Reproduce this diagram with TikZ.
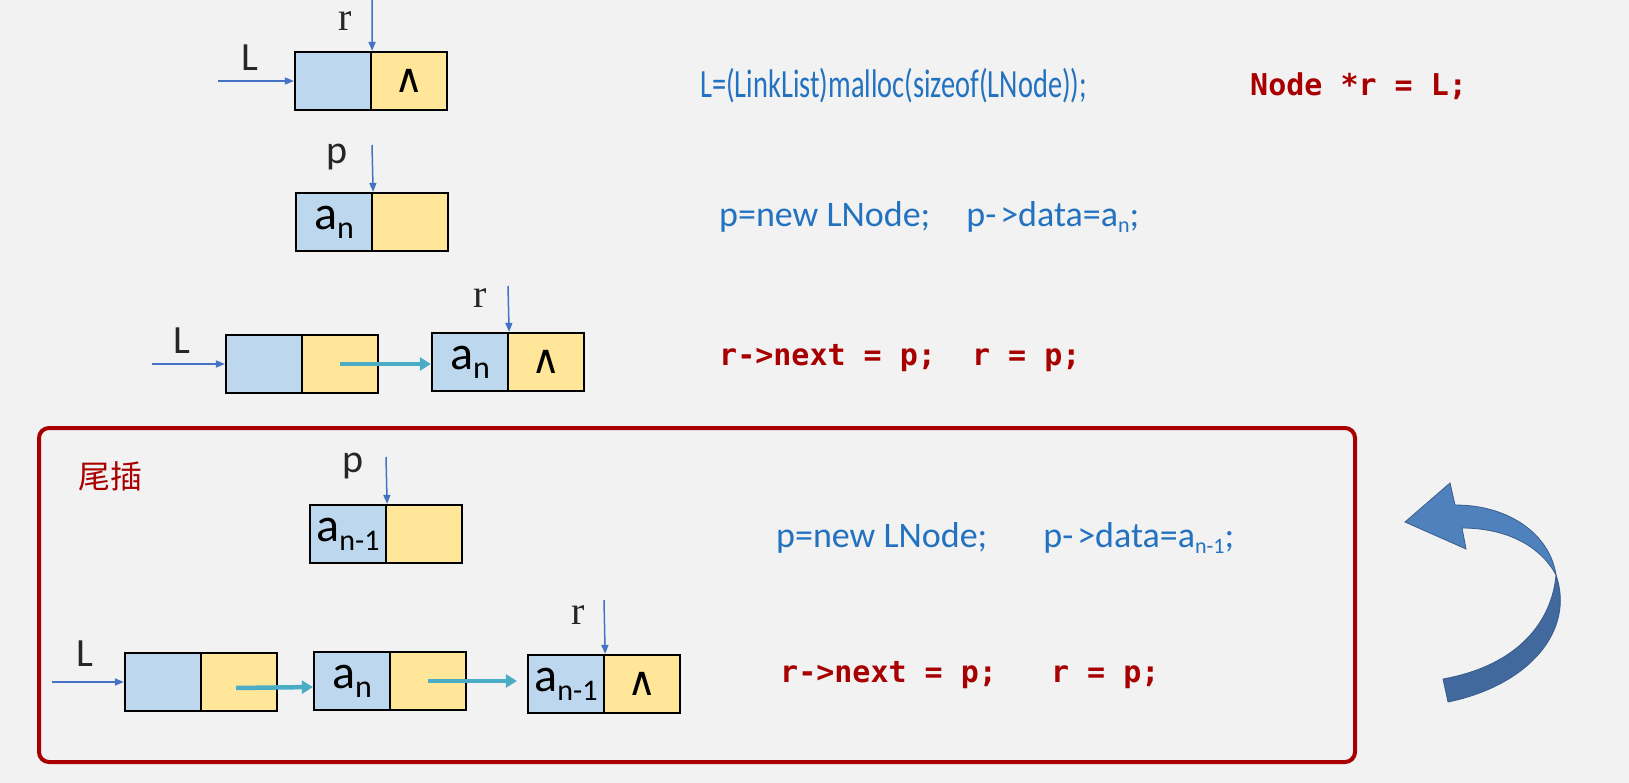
\documentclass[tikz,border=0pt]{standalone}
\usepackage{fontspec}
\usepackage{graphicx}
\setmainfont{Carlito}
\newfontfamily\codefont{DejaVu Sans Mono}
\newfontfamily\serifr{Liberation Serif}
\newfontfamily\cjkf{Noto Sans CJK SC}
\newfontfamily\symf{DejaVu Sans}
\usetikzlibrary{arrows.meta,calc}
\definecolor{bg}{HTML}{F2F2F2}
\definecolor{cellblue}{HTML}{BDD7EE}
\definecolor{cellyellow}{HTML}{FFE699}
\definecolor{ptrblue}{HTML}{4472C4}
\definecolor{linkteal}{HTML}{4BACC6}
\definecolor{codeblue}{HTML}{2372C0}
\definecolor{darkred}{HTML}{A80000}
\definecolor{arrowlight}{HTML}{4F81BD}
\definecolor{arrowdark}{HTML}{41699E}
\definecolor{arrowedge}{HTML}{385D8A}
\newcommand\datan{a\raisebox{-9pt}{\fontsize{32}{32}\selectfont n}}
\newcommand\datanm{a\raisebox{-9pt}{\fontsize{30}{30}\selectfont n-1}}
\begin{document}
\begin{tikzpicture}[x=1pt,y=-1pt,
  cellL/.style={draw=black, line width=2.2pt, fill=cellblue, minimum width=76pt,
    minimum height=58pt, inner sep=0pt, font=\fontsize{48}{50}\selectfont},
  cellR/.style={draw=black, line width=2.2pt, fill=cellyellow, minimum width=76pt,
    minimum height=58pt, inner sep=0pt, font=\symf\fontsize{40}{42}\selectfont},
  ptr/.style={draw=ptrblue, line width=1.5pt, -{Triangle[length=9pt,width=7pt]}},
  link/.style={draw=linkteal, line width=4.5pt, -{Triangle[length=11pt,width=13pt]}},
  lbl/.style={font=\fontsize{40}{44}\selectfont, text=black!85, inner sep=0pt},
  rlbl/.style={font=\serifr\fontsize{40}{42}\selectfont, text=black!85, inner sep=0pt},
  bluecode/.style={text=codeblue, font=\fontsize{36}{40}\selectfont, anchor=west, inner sep=0pt},
  redcode/.style={text=darkred, font=\codefont\bfseries\fontsize{30}{36}\selectfont, anchor=west, inner sep=0pt}
]
\useasboundingbox (0,0) rectangle (1629,783);
\fill[bg] (0,0) rectangle (1629,783);

% ---------- row 1
\node[cellL] (b1l) at (333,81) {};
\node[cellR] (b1r) at (409,81) {∧};
\node[rlbl] (r1) at (345,21) {r};
\coordinate (r1s) at (372,0);
\draw[ptr] (r1s) -- (b1l.north east);
\node[lbl] (L1) at (250,58) {L};
\coordinate (L1s) at (218,81);
\draw[ptr] (L1s) -- (b1l.west);
\node[bluecode, font=\fontsize{40}{44}\selectfont] (t1) at (700,86) {\scalebox{0.71}[1]{L=(LinkList)malloc(sizeof(LNode));}};
\node[redcode] (t1r) at (1250,86) {Node *r = L;};

% ---------- row 2
\node[cellL] (b2l) at (334,222) {\datan};
\node[cellR] (b2r) at (410,222) {};
\node[lbl] (p2) at (337,157) {p};
\coordinate (p2s) at (372,145);
\draw[ptr] (p2s) -- (b2l.north east);
\node[bluecode] (t2) at (719,217) {p=new LNode;\hspace{36pt}p-\hspace{4pt}>data=a\raisebox{-6pt}{\fontsize{22}{22}\selectfont n};};

% ---------- row 3
\node[cellL] (b3al) at (264,364) {};
\node[cellR] (b3ar) at (340,364) {};
\node[cellL] (b3bl) at (470,362) {\datan};
\node[cellR] (b3br) at (546,362) {∧};
\node[lbl] (L3) at (182,341) {L};
\coordinate (L3s) at (152,364);
\draw[ptr] (L3s) -- (b3al.west);
\node[rlbl] (r3) at (480,298) {r};
\coordinate (r3s) at (508,286);
\draw[ptr] (r3s) -- (b3bl.north east);
\draw[link] (b3ar.center) -- (b3bl.west |- b3ar.center);
\node[redcode] (t3) at (719,358) {r->next = p;\ \ r = p;};

% ---------- frame
\draw[darkred, line width=4pt, rounded corners=10pt] (39,428) rectangle (1355,762);
\node[text=darkred, font=\cjkf\fontsize{32}{36}\selectfont, anchor=west, inner sep=0pt] (title) at (78,476) {尾插};

% ---------- row 4
\node[cellL] (b4l) at (348,534) {\datanm};
\node[cellR] (b4r) at (424,534) {};
\node[lbl] (p4) at (353,466) {p};
\coordinate (p4s) at (386,457);
\draw[ptr] (p4s) -- (b4l.north east);
\node[bluecode] (t4) at (776,538) {p=new LNode;\hspace{56pt}p-\hspace{4pt}>data=a\raisebox{-6pt}{\fontsize{22}{22}\selectfont n-1};};

% ---------- row 5
\node[cellL] (b5al) at (163,682) {};
\node[cellR] (b5ar) at (239,682) {};
\node[cellL] (b5bl) at (352,681) {\datan};
\node[cellR] (b5br) at (428,681) {};
\node[cellL] (b5cl) at (566,684) {\datanm};
\node[cellR] (b5cr) at (642,684) {∧};
\node[lbl] (L5) at (85,654) {L};
\coordinate (L5s) at (52,682);
\draw[ptr] (L5s) -- (b5al.west);
\node[rlbl] (r5) at (578,615) {r};
\coordinate (r5s) at (604,600);
\draw[ptr] (r5s) -- (b5cl.north east);
\draw[link] ($(b5ar.center)+(-3,6)$) -- ($(b5bl.west)+(0,6)$);
\draw[link, shorten >=10pt] (b5br.center) -- (b5cl.west |- b5br.center);
\node[redcode] (t5) at (780,675) {r->next = p;\ \ \ r = p;};

% ---------- curved arrow
\fill[arrowdark, draw=arrowedge, line width=0.8pt]
  (1556,575) .. controls (1552,620) and (1520,665) .. (1443,679)
  -- (1448,702) .. controls (1530,685) and (1575,630) .. (1556,575) -- cycle;
\fill[arrowlight, draw=arrowedge, line width=0.8pt]
  (1455,505) .. controls (1510,505) and (1550,535) .. (1556,575)
  .. controls (1540,545) and (1505,528) .. (1462,528)
  -- (1466,549) -- (1405,522) -- (1450,483) -- cycle;
\end{tikzpicture}
\end{document}
